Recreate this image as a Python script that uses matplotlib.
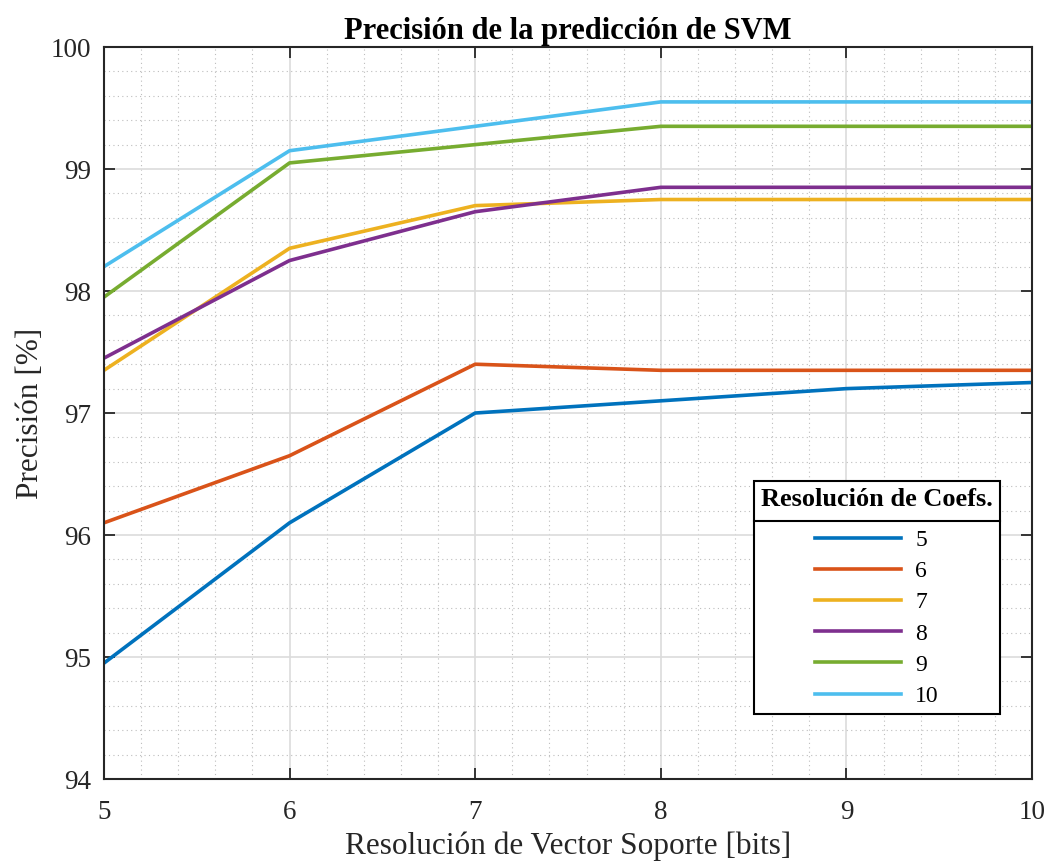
# SVM prediction accuracy vs support vector resolution
import numpy as np
import matplotlib.pyplot as plt
from matplotlib.ticker import MultipleLocator
from matplotlib.lines import Line2D

plt.rcParams['font.family'] = ['Liberation Serif', 'DejaVu Serif']

# Data
bits_sv = [5, 6, 7, 8, 9, 10]
coef_res = ['5', '6', '7', '8', '9', '10']
prec_5 = [94.95, 96.10, 97.00, 97.10, 97.20, 97.25]
prec_6 = [96.10, 96.65, 97.40, 97.35, 97.35, 97.35]
prec_7 = [97.35, 98.35, 98.70, 98.75, 98.75, 98.75]
prec_8 = [97.45, 98.25, 98.65, 98.85, 98.85, 98.85]
prec_9 = [97.95, 99.05, 99.20, 99.35, 99.35, 99.35]
prec_10 = [98.20, 99.15, 99.35, 99.55, 99.55, 99.55]
series = [prec_5, prec_6, prec_7, prec_8, prec_9, prec_10]

colors = ['#0072BD', '#D95319', '#EDB120', '#7E2F8E', '#77AC30', '#4DBEEE']
dark = '#262626'

fig = plt.figure(figsize=(10.49, 8.61), dpi=100)
ax = fig.add_axes([0.0991, 0.0952, 0.8847, 0.8502])

for vals, lab, c in zip(series, coef_res, colors):
    ax.plot(bits_sv, vals, color=c, linewidth=2.6, label=lab)

ax.set_xlim(5, 10)
ax.set_ylim(94, 100)
ax.xaxis.set_major_locator(MultipleLocator(1))
ax.yaxis.set_major_locator(MultipleLocator(1))
ax.xaxis.set_minor_locator(MultipleLocator(0.2))
ax.yaxis.set_minor_locator(MultipleLocator(0.2))

ax.grid(which='major', color='#dcdcdc', linewidth=1.2, linestyle='-')
ax.grid(which='minor', color='#bdbdbd', linewidth=0.8, linestyle=(0, (1, 3)))
ax.set_axisbelow(True)

ax.tick_params(which='major', direction='in', length=7.7, width=1.3,
               top=True, right=True, labelsize=19.5, colors=dark)
ax.tick_params(axis='x', pad=15)
ax.tick_params(axis='y', pad=9.5)
ax.tick_params(which='minor', length=0, top=True, right=True)
for s in ax.spines.values():
    s.set_color(dark)
    s.set_linewidth(1.5)

ax.set_title('Precisión de la predicción de SVM', fontsize=22,
             fontweight='bold', pad=6)
ax.set_xlabel('Resolución de Vector Soporte [bits]', fontsize=22.5,
              color=dark, labelpad=5)
ax.set_ylabel('Precisión [%]', fontsize=22.5, color=dark, labelpad=4)

leg = ax.legend(title='Resolución de Coefs.', loc='lower right',
                bbox_to_anchor=(0.9655, 0.0888), borderaxespad=0,
                fontsize=17, title_fontproperties={'weight': 'bold', 'size': 19},
                alignment='center', handlelength=3.64, labelspacing=0.41,
                handletextpad=0.6, fancybox=False, framealpha=1,
                edgecolor='black', borderpad=0.3)
leg.get_frame().set_linewidth(1.5)
leg._legend_box.sep = 13

# separator line under the legend title
fig.canvas.draw()
rend = fig.canvas.get_renderer()
lb = leg.get_window_extent(rend)
tb = leg.get_title().get_window_extent(rend)
fb = leg.get_texts()[0].get_window_extent(rend)
ysep = (tb.y0 + fb.y1) / 2
inv = fig.transFigure.inverted()
x0, y0 = inv.transform((lb.x0, ysep))
x1, _ = inv.transform((lb.x1, ysep))
fig.add_artist(Line2D([x0, x1], [y0, y0], color='black', linewidth=1.5,
                      transform=fig.transFigure, zorder=10))

fig.savefig('out.png', dpi=100)
